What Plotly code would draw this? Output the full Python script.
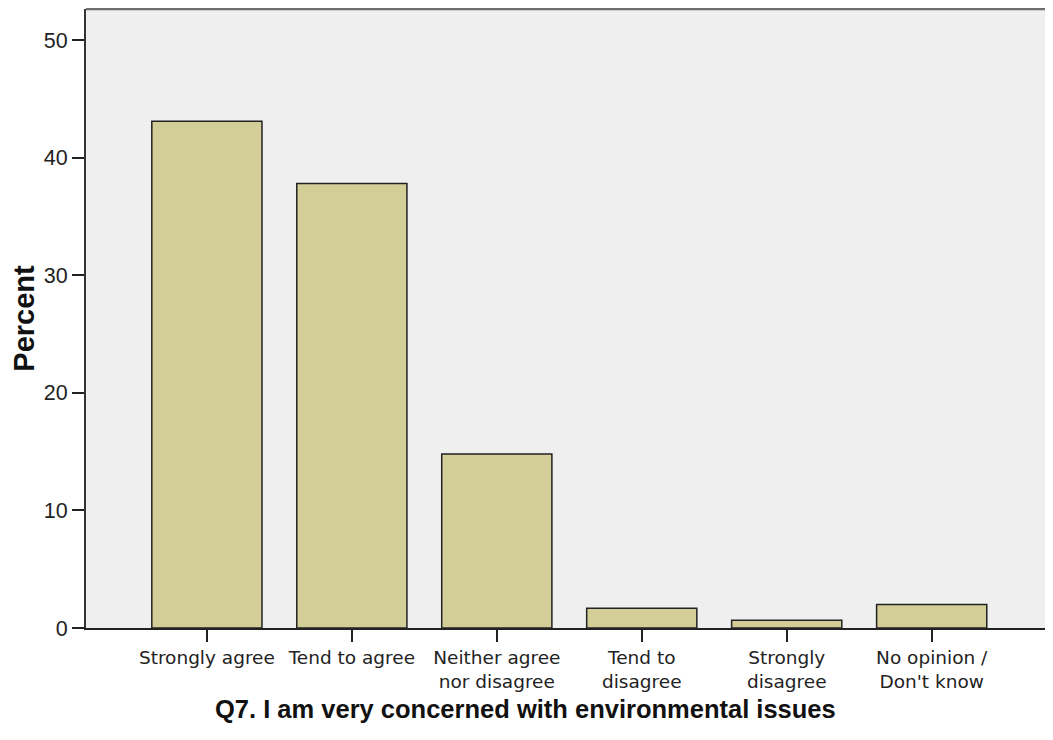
import plotly.graph_objects as go

categories = ["Strongly agree", "Tend to agree", "Neither agree<br>nor disagree",
              "Tend to<br>disagree", "Strongly<br>disagree", "No opinion /<br>Don't know"]
percent = [43.1, 37.8, 14.8, 1.67, 0.65, 2.0]
y_ticks = [0, 10, 20, 30, 40, 50]

# page body has an 8px default margin; compensate so plot area sits at x 86..1052, y 9..628
OFF = 8
L, T, R, B = 86 - OFF, 9 - OFF, 1, 112
W, H = 1053 - OFF, 740 - OFF
pw = W - L - R
ph = H - T - B

fig = go.Figure(go.Bar(
    x=list(range(len(categories))), y=percent,
    width=0.76,
    marker=dict(color="#d3ce97", line=dict(color="#222222", width=1.5)),
))

fig.update_layout(
    width=W, height=H,
    margin=dict(l=L, r=R, t=T, b=B),
    paper_bgcolor="white", plot_bgcolor="#efefef",
    showlegend=False,
    font=dict(family="Liberation Sans, Arial, sans-serif", color="#222222"),
    xaxis=dict(
        range=[-0.834, 5.83], tickmode="array",
        tickvals=list(range(len(categories))), ticktext=categories,
        ticks="outside", ticklen=12, tickwidth=1.5, tickcolor="#222222",
        tickfont=dict(size=18.5, color="#222222", family="DejaVu Sans, sans-serif"),
        showline=True, linecolor="#222222", linewidth=1.5,
        showgrid=False, zeroline=False, fixedrange=True,
    ),
    yaxis=dict(
        range=[0, 52.65], tickmode="array", tickvals=y_ticks,
        ticks="outside", ticklen=12, tickwidth=1.5, tickcolor="#222222",
        tickfont=dict(size=21.5, color="#222222"),
        showline=True, linecolor="#333333", linewidth=2,
        showgrid=False, zeroline=False,
        title=dict(text="<b>Percent</b>", font=dict(size=29, color="#111111"), standoff=10),
    ),
    shapes=[
        dict(type="line", xref="paper", yref="paper", x0=0, x1=1, y0=1, y1=1,
             line=dict(color="#6e6e6e", width=2.5)),
        dict(type="line", xref="paper", yref="paper", x0=1, x1=1, y0=0, y1=1,
             line=dict(color="#bbbbbb", width=1)),
    ],
    annotations=[
        dict(text="<b>Q7. I am very concerned with environmental issues</b>",
             xref="paper", yref="paper", x=(525 - 86) / pw, y=-(709 - 628) / ph,
             xanchor="center", yanchor="middle", showarrow=False,
             font=dict(size=25.5, color="#111111")),
    ],
)

fig.write_html("out.html")
